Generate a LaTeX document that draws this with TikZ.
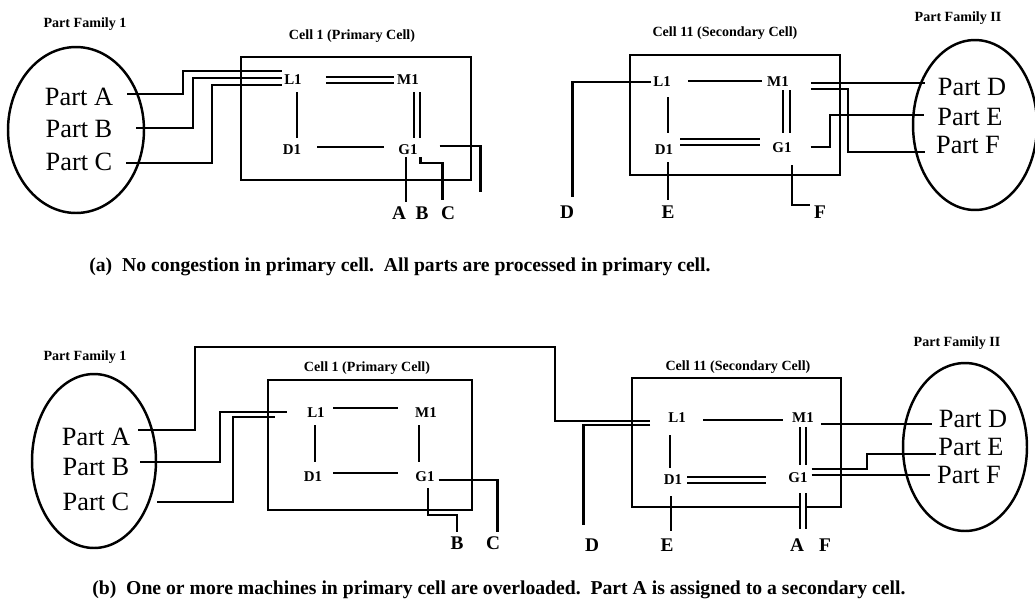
\documentclass[tikz,border=0pt]{standalone}
\usepackage{fontspec}
\setmainfont{Liberation Serif}
\usetikzlibrary{calc,shapes.geometric}

\tikzset{
  wire/.style={line width=1.5pt},
  dbl/.style={line width=1.1pt, double, double distance=2.5pt},
  cellbox/.style={draw, line width=1.5pt, inner sep=0pt},
  fam/.style={draw, ellipse, line width=1.4pt, inner sep=0pt},
  part/.style={font=\fontsize{15}{17}\selectfont, inner sep=1pt},
  mach/.style={font=\fontsize{8.5}{10}\selectfont\bfseries, inner sep=1pt},
  ttl/.style={font=\fontsize{8}{10}\selectfont\bfseries, inner sep=1pt},
  tag/.style={font=\fontsize{11}{13}\selectfont\bfseries, inner sep=1pt},
  capt/.style={font=\fontsize{11.2}{13}\selectfont\bfseries, anchor=west, inner sep=0pt}
}

\begin{document}
\begin{tikzpicture}[x=0.02cm, y=-0.02cm]
  \useasboundingbox (0,0) rectangle (1035,599);

  % ---------- (a) part family 1 ----------
  \node[ttl] (famIa) at (85,24) {Part Family 1};
  \node[fam, minimum width=2.72cm, minimum height=3.32cm] (ellIa) at (76,130) {};
  \node[part] (pA) at (79,97) {Part A};
  \node[part] (pB) at (79,129) {Part B};
  \node[part] (pC) at (79,162) {Part C};

  % ---------- (a) cell 1 ----------
  \node[cellbox, minimum width=4.6cm, minimum height=2.46cm] (cellIa) at (356,118.5) {};
  \node[ttl] (tIa) at (352,36) {Cell 1 (Primary Cell)};
  \node[mach] (L1a) at (293,80) {L1};
  \node[mach] (M1a) at (408,80) {M1};
  \node[mach] (D1a) at (292,150) {D1};
  \node[mach] (G1a) at (408,150) {G1};
  \draw[dbl] ($(L1a.east)+(22,0)$) -- ($(M1a.west)+(-1,0)$);
  \draw[dbl] ($(M1a.south)+(9,5)$) -- ($(G1a.north)+(9,-5)$);
  \draw[wire] ($(L1a.south)+(4,5)$) -- ($(D1a.north)+(5,-5)$);
  \draw[wire] ($(D1a.east)+(14,-3)$) -- ($(G1a.west)+(-12,-3)$);

  \draw[wire] ($(pA.east)+(12,-3)$) -| (183,71) -- ($(L1a.west)+(0,-9)$);
  \draw[wire] ($(pB.east)+(22,-1)$) -| (193,78) -- ($(L1a.west)+(0,-2)$);
  \draw[wire] ($(pC.east)+(12,1)$) -| (212,85) -- ($(L1a.west)+(0,5)$);

  \node[tag] (oAa) at (399,213) {A};
  \node[tag] (oBa) at (422,213) {B};
  \node[tag] (oCa) at (448,213) {C};
  \draw[wire] ($(G1a.south)+(-2,0)$) -- ++(0,45);
  \draw[wire] ($(G1a.south east)+(1,0)$) -- ++(0,6) -| ++(22,37);
  \draw[wire] ($(G1a.east)+(20,-4)$) -| ++(41,46);

  % ---------- (a) cell 11 ----------
  \node[cellbox, minimum width=4.2cm, minimum height=2.4cm] (cellIIa) at (735,115) {};
  \node[ttl] (tIIa) at (725,33) {Cell 11 (Secondary Cell)};
  \node[mach] (L2a) at (662,82) {L1};
  \node[mach] (M2a) at (778,82) {M1};
  \node[mach] (D2a) at (664,150) {D1};
  \node[mach] (G2a) at (782,148) {G1};
  \draw[wire] ($(L2a.east)+(15,-1)$) -- ($(M2a.west)+(-3,-1)$);
  \draw[wire] ($(L2a.south)+(6,8)$) -- ($(D2a.north)+(4,-10)$);
  \draw[dbl] ($(M2a.south)+(8.5,1)$) -- ($(G2a.north)+(4.5,-8)$);
  \draw[dbl] ($(D2a.east)+(5,-8)$) -- ($(G2a.west)+(-10.7,-6)$);

  \node[tag] (oDa) at (567,212) {D};
  \node[tag] (oEa) at (668,212) {E};
  \node[tag] (oFa) at (820,212) {F};
  \draw[wire] (L2a.west) -| ++(-79,115);
  \draw[wire] ($(D2a.south)+(4,5)$) -- ++(0,38);
  \draw[wire] ($(G2a.south)+(10,10)$) |- ++(18,40);

  % ---------- (a) part family II ----------
  \node[ttl] (famIIa) at (958,18) {Part Family II};
  \node[fam, minimum width=2.48cm, minimum height=3.4cm] (ellIIa) at (975,125) {};
  \node[part] (pD) at (972,87) {Part D};
  \node[part] (pE) at (970,117) {Part E};
  \node[part] (pF) at (968,145) {Part F};
  \draw[wire] ($(M2a.east)+(20,1)$) -- ($(pD.west)+(-11,-4)$);
  \draw[wire] ($(M2a.east)+(20,7)$) -| (848,152) -- ($(pF.west)+(-9,7)$);
  \draw[wire] ($(G2a.east)+(17,-1)$) -| (830,115) -- ($(pE.west)+(-11,-2)$);

  \node[capt] (capa) at (89,267) {(a)\enspace No congestion in primary cell.\enspace All parts are processed in primary cell.};

  % ---------- (b) part family 1 ----------
  \node[ttl] (famIb) at (85,357) {Part Family 1};
  \node[fam, minimum width=2.48cm, minimum height=3.48cm] (ellIb) at (94,461) {};
  \node[part] (pAb) at (96,437) {Part A};
  \node[part] (pBb) at (96,467) {Part B};
  \node[part] (pCb) at (96,502) {Part C};

  % ---------- (b) cell 1 ----------
  \node[cellbox, minimum width=4.08cm, minimum height=2.6cm] (cellIb) at (370,445) {};
  \node[ttl] (tIb) at (367,368) {Cell 1 (Primary Cell)};
  \node[mach] (L1b) at (316,413) {L1};
  \node[mach] (M1b) at (426,413) {M1};
  \node[mach] (D1b) at (313,477) {D1};
  \node[mach] (G1b) at (425,477) {G1};
  \draw[wire] ($(L1b.east)+(6.5,-5)$) -- ($(M1b.west)+(-15.5,-5)$);
  \draw[wire] ($(L1b.south)+(-1,5)$) -- ($(D1b.north)+(2,-8)$);
  \draw[wire] ($(M1b.south)+(-7,5)$) -- ($(G1b.north)+(-6,-8)$);
  \draw[wire] ($(D1b.east)+(9,-4)$) -- ($(G1b.west)+(-15.7,-4)$);

  \node[tag] (oBb) at (457,543) {B};
  \node[tag] (oCb) at (493,543) {C};
  \draw[wire] ($(G1b.south)+(3,4)$) -- ++(0,27) -| ++(29,17);
  \draw[wire] ($(G1b.east)+(2,3)$) -| ++(59,52);

  % ---------- (b) cell 11 ----------
  \node[cellbox, minimum width=4.18cm, minimum height=2.58cm] (cellIIb) at (736.5,442.5) {};
  \node[ttl] (tIIb) at (738,367) {Cell 11 (Secondary Cell)};
  \node[mach] (L2b) at (677,418) {L1};
  \node[mach] (M2b) at (803,418) {M1};
  \node[mach] (D2b) at (673,480) {D1};
  \node[mach] (G2b) at (798,478) {G1};
  \draw[wire] ($(L2b.east)+(15.5,2)$) -- ($(M2b.west)+(-7.5,2)$);
  \draw[wire] ($(L2b.south)+(-7,10)$) -- ($(D2b.north)+(-3,-5)$);
  \draw[dbl] ($(M2b.south)+(0,2)$) -- ($(G2b.north)+(5,-6)$);
  \draw[dbl] ($(D2b.east)+(3,0)$) -- ($(G2b.west)+(-20,2)$);

  \draw[wire] ($(pAb.east)+(6,-7)$) -| (195,347) -| (555,421) -- ($(L2b.west)+(-16,3)$);
  \draw[wire] ($(pBb.east)+(9,-5)$) -| (220,412) -- ($(L1b.west)+(-18,-1)$);
  \draw[wire] ($(pCb.east)+(26,0)$) -| (233,417) -- ($(L1b.west)+(-30,4)$);

  \node[tag] (oDb) at (592,545) {D};
  \node[tag] (oEb) at (667,545) {E};
  \node[tag] (oAb) at (797,545) {A};
  \node[tag] (oFb) at (825,545) {F};
  \draw[wire] ($(L2b.west)+(-16,7)$) -| ++(-67,100);
  \draw[wire] ($(D2b.south)+(-2,9)$) -- ++(0,35);
  \draw[dbl] ($(G2b.south)+(5,8)$) -- ++(0,36);

  % ---------- (b) part family II ----------
  \node[ttl] (famIIb) at (957,343) {Part Family II};
  \node[fam, minimum width=2.48cm, minimum height=3.36cm] (ellIIb) at (965,447) {};
  \node[part] (pDb) at (973,419) {Part D};
  \node[part] (pEb) at (971,447) {Part E};
  \node[part] (pFb) at (969,475) {Part F};
  \draw[wire] ($(M2b.east)+(5,6)$) -- ($(pDb.west)+(-5,5)$);
  \draw[wire] ($(G2b.east)+(2,-9)$) -| (867,454) -- ($(pEb.west)+(0,7)$);
  \draw[wire] ($(G2b.east)+(2,-3)$) -- ($(pFb.west)+(-5,0)$);

  \node[capt] (capb) at (92,590) {(b)\enspace One or more machines in primary cell are overloaded.\enspace Part A is assigned to a secondary cell.};
\end{tikzpicture}
\end{document}
